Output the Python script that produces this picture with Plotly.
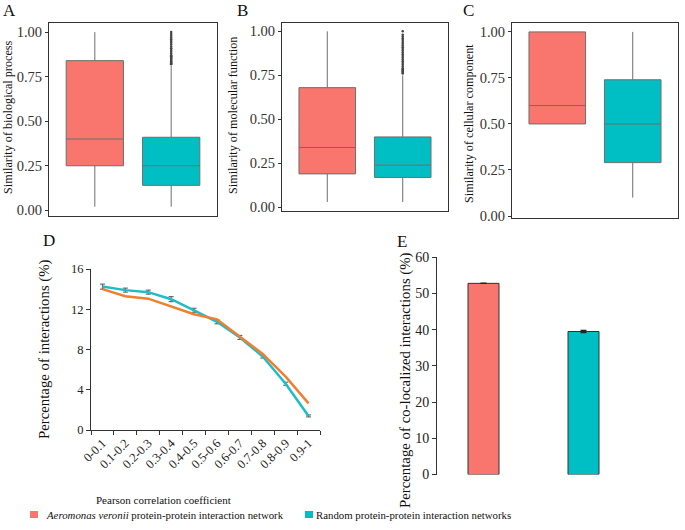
import plotly.graph_objects as go

# ---------------- data ----------------
box_groups = ["Aeromonas veronii", "Random"]
# Panel A: Similarity of biological process
bp_q1 = [0.25, 0.14]
bp_med = [0.40, 0.25]
bp_q3 = [0.84, 0.41]
bp_lo = [0.02, 0.02]
bp_hi = [1.00, 0.81]
bp_outliers = [0.82, 0.825, 0.83, 0.835, 0.84, 0.845, 0.85, 0.855, 0.86, 0.865, 0.87,
               0.88, 0.89, 0.90, 0.91, 0.92, 0.93, 0.94, 0.95, 0.96, 0.97, 0.98, 0.99, 1.00]
# Panel B: Similarity of molecular function
mf_q1 = [0.19, 0.17]
mf_med = [0.34, 0.24]
mf_q3 = [0.68, 0.40]
mf_lo = [0.03, 0.03]
mf_hi = [1.00, 0.75]
mf_outliers = [0.76, 0.765, 0.77, 0.775, 0.78, 0.785, 0.79, 0.80, 0.81, 0.82, 0.83, 0.84,
               0.85, 0.86, 0.87, 0.88, 0.89, 0.90, 0.91, 0.92, 0.93, 0.94, 0.95, 0.96, 0.97, 0.98, 1.00]
# Panel C: Similarity of cellular component
cc_q1 = [0.50, 0.29]
cc_med = [0.60, 0.50]
cc_q3 = [1.00, 0.74]
cc_lo = [0.50, 0.10]
cc_hi = [1.00, 1.00]

# Panel D: Percentage of interactions by Pearson correlation bin
pcc_bins = ["0-0.1", "0.1-0.2", "0.2-0.3", "0.3-0.4", "0.4-0.5",
            "0.5-0.6", "0.6-0.7", "0.7-0.8", "0.8-0.9", "0.9-1"]
pct_aero = [14.0, 13.3, 13.05, 12.3, 11.5, 11.0, 9.25, 7.55, 5.3, 2.65]
pct_random = [14.25, 13.9, 13.7, 13.0, 11.9, 10.75, 9.2, 7.3, 4.6, 1.4]
pct_random_err = [0.25, 0.2, 0.2, 0.25, 0.2, 0.2, 0.2, 0.15, 0.15, 0.1]

# Panel E: Percentage of co-localized interactions
coloc_groups = ["Aeromonas veronii", "Random"]
coloc_vals = [52.8, 39.5]
coloc_err = [0, 0.25]

RED = "#F8766D"
TEAL = "#00BFC4"
LINE_OR = "#F07F30"
LINE_TE = "#1CBDC8"
FONT = "Liberation Serif"
W, H = 685, 530


def fx(px):
    return px / W


def fy(py):
    return 1 - py / H


fig = go.Figure()

panels = [
    ("", bp_q1, bp_med, bp_q3, bp_lo, bp_hi, bp_outliers),
    ("2", mf_q1, mf_med, mf_q3, mf_lo, mf_hi, mf_outliers),
    ("3", cc_q1, cc_med, cc_q3, cc_lo, cc_hi, None),
]
for suf, q1, med, q3, lo, hi, outl in panels:
    for i, col in enumerate([RED, TEAL]):
        fig.add_trace(go.Box(
            x=[i], q1=[q1[i]], median=[med[i]], q3=[q3[i]],
            lowerfence=[lo[i]], upperfence=[hi[i]],
            width=0.75, whiskerwidth=0, fillcolor=col,
            line=dict(color="#6E6E6E", width=1),
            boxpoints=False, showlegend=False, hoverinfo="skip",
            xaxis="x" + suf, yaxis="y" + suf,
        ))
    if outl:
        fig.add_trace(go.Scatter(
            x=[1] * len(outl), y=outl, mode="markers",
            marker=dict(color="#444444", size=2.5),
            showlegend=False, hoverinfo="skip",
            xaxis="x" + suf, yaxis="y" + suf,
        ))

# Panel D
fig.add_trace(go.Scatter(
    x=pcc_bins, y=pct_random, mode="lines",
    line=dict(color=LINE_TE, width=2.5),
    error_y=dict(type="data", array=pct_random_err, color="#555555", thickness=1, width=2.5),
    showlegend=False, xaxis="x4", yaxis="y4",
))
fig.add_trace(go.Scatter(
    x=pcc_bins, y=pct_aero, mode="lines",
    line=dict(color=LINE_OR, width=2.5),
    showlegend=False, xaxis="x4", yaxis="y4",
))

# Panel E
fig.add_trace(go.Bar(
    x=[0, 1], y=coloc_vals, width=0.31,
    marker=dict(color=[RED, TEAL], line=dict(color="#333333", width=1)),
    error_y=dict(type="data", array=coloc_err, color="#222222", thickness=1.5, width=3),
    showlegend=False, xaxis="x5", yaxis="y5",
))

tickfont = dict(family=FONT, size=14.5, color="#333333")
frame = dict(showline=True, mirror=True, linecolor="#333333", linewidth=1,
             showgrid=False, zeroline=False)

layout = dict(
    width=W, height=H, margin=dict(l=0, r=0, t=0, b=0, autoexpand=False),
    paper_bgcolor="white", plot_bgcolor="white",
    font=dict(family=FONT, color="#333333"),
    showlegend=False,
)
box_dom = {
    "": ((49, 217), (22.5, 216), (-0.032, 1.054)),
    "2": ((282, 448), (22.7, 210.5), (-0.018, 1.049)),
    "3": ((512, 678), (22.7, 218.3), (-0.0125, 1.05)),
}
for suf, (xd, yd, yr) in box_dom.items():
    xa = "xaxis" + suf
    ya = "yaxis" + suf
    layout[xa] = dict(domain=[fx(xd[0]), fx(xd[1])], range=[-0.6, 1.6], showticklabels=False,
                      ticks="", anchor="y" + suf, **frame)
    layout[ya] = dict(domain=[fy(yd[1]), fy(yd[0])], range=list(yr), tickvals=[0, 0.25, 0.5, 0.75, 1.0],
                      ticktext=["0.00", "0.25", "0.50", "0.75", "1.00"], ticks="outside", ticklen=3,
                      tickcolor="#333333", tickfont=tickfont, anchor="x" + suf, **frame)

layout["xaxis4"] = dict(domain=[fx(91), fx(320)], range=[-0.5, 9.5], type="category",
                        tickangle=-45, tickson="boundaries", ticks="outside", ticklen=4,
                        tickcolor="#333333", showline=True, linecolor="#333333", linewidth=1,
                        showgrid=False, zeroline=False, anchor="y4",
                        tickfont=dict(family=FONT, size=12.5, color="#222222"))
layout["yaxis4"] = dict(domain=[fy(430), fy(269)], range=[0, 16], tickvals=[0, 4, 8, 12, 16],
                        ticks="outside", ticklen=4, tickcolor="#333333", showline=True,
                        linecolor="#333333", linewidth=1, showgrid=False, zeroline=False,
                        anchor="x4", tickfont=dict(family=FONT, size=12.5, color="#222222"))
layout["xaxis5"] = dict(domain=[fx(437), fx(630)], range=[-0.465, 1.465], visible=False, anchor="y5")
layout["yaxis5"] = dict(domain=[fy(474.5), fy(257.3)], range=[0, 60], tickvals=[0, 10, 20, 30, 40, 50, 60],
                        ticks="outside", ticklen=4, tickcolor="#333333", showline=True,
                        linecolor="#333333", linewidth=1, showgrid=False, zeroline=False,
                        anchor="x5", tickfont=dict(family=FONT, size=14, color="#222222"))
fig.update_layout(**layout)

ann = []


def label(text, x, y, size, angle=0, xanchor="center", color="#111111"):
    ann.append(dict(text=text, x=fx(x), y=fy(y), xref="paper", yref="paper",
                    showarrow=False, textangle=angle, xanchor=xanchor, yanchor="middle",
                    font=dict(family=FONT, size=size, color=color)))


for t, x, y in [("A", 9, 11), ("B", 243, 11), ("C", 468, 11), ("D", 49, 240), ("E", 402, 241)]:
    label(t, x, y, 17)

label("Similarity of biological process", 8, 117, 12.2, -90)
label("Similarity of molecular function", 233, 116, 12.2, -90)
label("Similarity of cellular component", 469, 124, 12.2, -90)
label("Percentage of interactions (%)", 44, 349, 14.8, -90)
label("Percentage of co-localized interactions (%)", 405, 380, 14.8, -90)
label("Pearson correlation coefficient", 163, 500, 11)
label("<i>Aeromonas veronii</i> protein-protein interaction network", 44, 515, 10.8, xanchor="left")
label("Random protein-protein interaction networks", 314, 515, 10.8, xanchor="left")

shapes = [
    dict(type="rect", xref="paper", yref="paper", x0=fx(30), x1=fx(38), y0=fy(518), y1=fy(511),
         fillcolor=RED, line=dict(width=0)),
    dict(type="rect", xref="paper", yref="paper", x0=fx(305), x1=fx(313), y0=fy(518), y1=fy(511),
         fillcolor=TEAL, line=dict(width=0)),
]
fig.update_layout(annotations=ann, shapes=shapes)

fig.write_html("out.html", config={"displayModeBar": False},
               post_script="document.body.style.margin='0px';document.body.style.overflow='hidden';"
                           "document.documentElement.style.overflow='hidden';")
